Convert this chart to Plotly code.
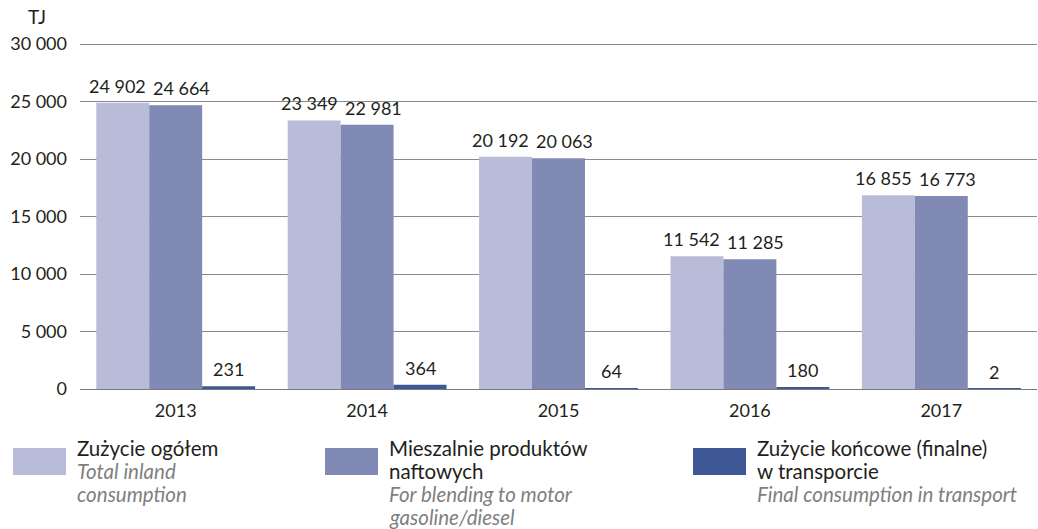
import plotly.graph_objects as go

years = ["2013", "2014", "2015", "2016", "2017"]
total = [24902, 23349, 20192, 11542, 16855]
blending = [24664, 22981, 20063, 11285, 16773]
transport = [231, 364, 64, 180, 2]

names_pl = ["Zużycie ogółem", "Mieszalnie produktów<br>naftowych", "Zużycie końcowe (finalne)<br>w transporcie"]
names_en = ["Total inland<br>consumption", "For blending to motor<br>gasoline/diesel", "Final consumption in transport"]
colors = ["#b9bcd9", "#8189b5", "#3e5895"]

FONT = "Lato"
W, H = 1038, 529
YMAX = 30435
L, R, T, B = 80, 1, 39, 140
PW, PH = W - L - R, H - T - B

fig = go.Figure()
series = [total, blending, transport]
for vals, c in zip(series, colors):
    fig.add_trace(go.Bar(
        x=years, y=vals, marker=dict(color=c, line=dict(width=0)),
        showlegend=False, hoverinfo="skip"))

def px(x):
    return (x - L) / PW

def py(y):
    return (H - B - y) / PH

annotations = []
bar_w = PW / 5 * (1 - 0.17) / 3
label_shift = [-bar_w - 5, 6, bar_w]
for s, vals in enumerate(series):
    for idx, v in enumerate(vals):
        annotations.append(dict(x=idx, y=v, xref="x", yref="y", text=f"{v:,}".replace(",", " "),
                                xshift=label_shift[s], yshift=4, yanchor="bottom", xanchor="center",
                                showarrow=False,
                                font=dict(family=FONT, size=18, color="#231f20")))

shapes = []
legend_x = [13, 325, 693]
LEG = 20.5
for i in range(3):
    x0 = legend_x[i]
    shapes.append(dict(type="rect", xref="paper", yref="paper",
                       x0=px(x0), x1=px(x0 + 53), y0=py(448), y1=py(475),
                       fillcolor=colors[i], line=dict(width=0)))
    yy = 448
    for ln in names_pl[i].split("<br>"):
        annotations.append(dict(text=ln, xref="paper", yref="paper", x=px(x0 + 62), y=py(yy),
                                xanchor="left", yanchor="middle", showarrow=False,
                                font=dict(family=FONT, size=LEG, color="#231f20")))
        yy += 23
    for ln in names_en[i].split("<br>"):
        annotations.append(dict(text="<i>" + ln + "</i>", xref="paper", yref="paper", x=px(x0 + 62), y=py(yy),
                                xanchor="left", yanchor="middle", showarrow=False,
                                font=dict(family=FONT, size=LEG, color="#7f7f7f")))
        yy += 23

annotations.append(dict(text="TJ", xref="paper", yref="paper", x=px(37), y=py(17),
                        xanchor="center", yanchor="middle", showarrow=False,
                        font=dict(family=FONT, size=19, color="#231f20")))

fig.update_layout(
    width=W, height=H,
    margin=dict(l=L, r=R, t=T, b=B),
    paper_bgcolor="white", plot_bgcolor="white",
    barmode="group", bargap=0.17, bargroupgap=0,
    separators=", ",
    font=dict(family=FONT, size=18, color="#231f20"),
    shapes=shapes, annotations=annotations,
    xaxis=dict(type="category", range=[-0.5, 4.5], showgrid=False, showline=True,
               linecolor="#7a7a7a", linewidth=1,
               ticks="", ticklabelstandoff=5,
               tickfont=dict(family=FONT, size=18, color="#231f20")),
    yaxis=dict(range=[0, YMAX], tickvals=[0, 5000, 10000, 15000, 20000, 25000, 30000],
               tickformat=",d", showgrid=True, gridcolor="#8a8a8a", gridwidth=1,
               zeroline=False, showline=False, ticks="", ticklabelstandoff=12,
               tickfont=dict(family=FONT, size=18, color="#231f20")),
)

fig.write_html("out.html", config={"displayModeBar": False},
               post_script="document.body.style.margin='0px';document.body.style.padding='0px';")
